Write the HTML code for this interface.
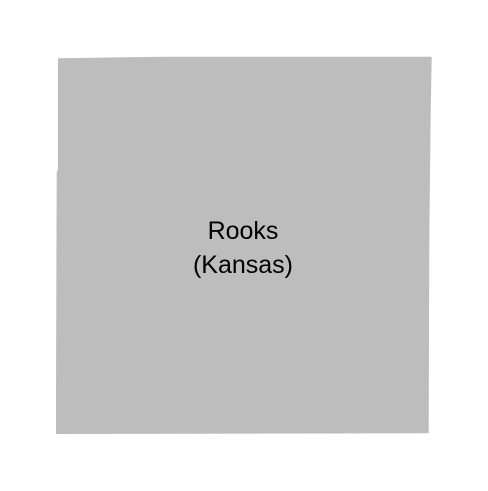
<!DOCTYPE html>
<html><head><meta charset="utf-8"><style>html,body{margin:0;padding:0;background:#fff;}svg{display:block}</style></head>
<body>
<svg width="488" height="491" viewBox="0 0 488 491" xmlns="http://www.w3.org/2000/svg">
<polygon fill="#bdbdbd"
 points="58,58.3 163,56.7 431.7,56.7 430.7,113 429.3,236.7 428.7,433.3 56,434 56,396 56.7,171.7 58,170"/>
<text x="243" y="239" text-anchor="middle" font-family="Liberation Sans, sans-serif" font-size="25" fill="#000">Rooks</text>
<text x="243" y="273" text-anchor="middle" font-family="Liberation Sans, sans-serif" font-size="25" fill="#000">(Kansas)</text>
</svg>
</body></html>
